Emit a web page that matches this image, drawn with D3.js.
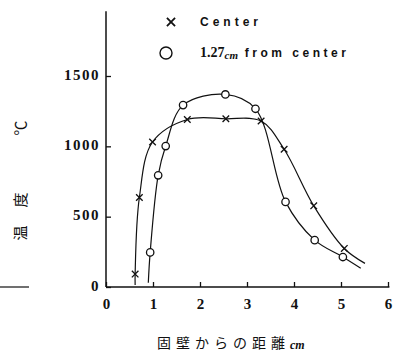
<!DOCTYPE html>
<html>
<head>
<meta charset="utf-8">
<script src="https://cdn.jsdelivr.net/npm/d3@7"></script>
<style>
  body { margin: 0; background: #fff; }
  svg { display: block; }
  .num { font-family: "Liberation Serif", "DejaVu Serif", serif; font-weight: bold; }
</style>
</head>
<body>
<svg id="chart" width="402" height="351"></svg>
<script>
"use strict";

//Distance from the wall (cm) and temperature (C) for the two series
var centerX = [0.62, 0.71, 0.99, 1.73, 2.55, 3.30, 3.79, 4.42, 5.07];
var centerY = [92, 636, 1031, 1191, 1196, 1180, 979, 577, 274];
var offX = [0.94, 1.11, 1.27, 1.64, 2.54, 3.18, 3.82, 4.44, 5.04];
var offY = [246, 794, 1002, 1293, 1369, 1267, 605, 333, 213];
//Where the hand drawn curves start and stop
var centerEnds = [[0.62, 14], [5.51, 168]];
var offEnds = [[0.90, 30], [5.42, 133]];

var xTicks = [0, 1, 2, 3, 4, 5, 6];
var yTicks = [0, 500, 1000, 1500];

var svg = d3.select("#chart");

var x = d3.scaleLinear().domain([0, 6]).range([106, 388]);
var y = d3.scaleLinear().domain([0, 1500]).range([287, 76]);

var ink = "#111";

//Axes lines
svg.append("line")
    .attr("x1", x(0)).attr("x2", x(0))
    .attr("y1", y(0)).attr("y2", y(1960))
    .attr("stroke", ink).attr("stroke-width", 1.5);
svg.append("line")
    .attr("x1", x(0)).attr("x2", x(6.03))
    .attr("y1", y(0)).attr("y2", y(0))
    .attr("stroke", ink).attr("stroke-width", 1.5);

//Small stroke on the far left
svg.append("line")
    .attr("x1", 0).attr("x2", 29)
    .attr("y1", y(0)).attr("y2", y(0))
    .attr("stroke", ink).attr("stroke-width", 1.2);

var gx = svg.append("g")
    .attr("transform", "translate(0," + y(0) + ")")
    .call(d3.axisBottom(x).tickValues(xTicks).tickFormat(d3.format("d"))
      .tickSizeInner(-5).tickSizeOuter(0).tickPadding(11));
gx.select(".domain").remove();

var gy = svg.append("g")
    .attr("transform", "translate(" + x(0) + ",0)")
    .call(d3.axisLeft(y).tickValues(yTicks).tickFormat(d3.format("d"))
      .tickSizeInner(-5).tickSizeOuter(0).tickPadding(6));
gy.select(".domain").remove();

//Let the css class choose the font of the tick labels
gx.attr("font-family", null).attr("font-size", 15);
gy.attr("font-family", null).attr("font-size", 15);
svg.selectAll(".tick line").attr("stroke", ink).attr("stroke-width", 1.3);
svg.selectAll(".tick text")
    .attr("fill", ink)
    .attr("class", "num");
gy.selectAll(".tick text").attr("letter-spacing", "1.5px").attr("dy", "0.2em");

//Curves
var line = d3.line()
    .x(function(d) { return x(d[0]); })
    .y(function(d) { return y(d[1]); })
    .curve(d3.curveCatmullRom.alpha(0.5));

function series(xs, ys, ends) {
  var pts = xs.map(function(v, i) { return [v, ys[i]]; });
  return [ends[0]].concat(pts).concat([ends[1]]);
}

svg.append("path")
    .attr("d", line(series(centerX, centerY, centerEnds)))
    .attr("fill", "none").attr("stroke", ink).attr("stroke-width", 1.2);
svg.append("path")
    .attr("d", line(series(offX, offY, offEnds)))
    .attr("fill", "none").attr("stroke", ink).attr("stroke-width", 1.2);

//Markers
var cross = d3.symbol().type(d3.symbolX).size(30);
svg.append("g").selectAll("path")
    .data(centerX)
    .enter().append("path")
      .attr("d", cross)
      .attr("transform", function(d, i) { return "translate(" + x(d) + "," + y(centerY[i]) + ")"; })
      .attr("fill", "none").attr("stroke", ink).attr("stroke-width", 1.3);

svg.append("g").selectAll("circle")
    .data(offX)
    .enter().append("circle")
      .attr("cx", function(d) { return x(d); })
      .attr("cy", function(d, i) { return y(offY[i]); })
      .attr("r", 3.7)
      .attr("fill", "#fff").attr("stroke", ink).attr("stroke-width", 1.3);

//Legend
svg.append("path")
    .attr("d", d3.symbol().type(d3.symbolX).size(45))
    .attr("transform", "translate(171,22)")
    .attr("fill", "none").attr("stroke", ink).attr("stroke-width", 1.8);
svg.append("text")
    .attr("x", 200).attr("y", 26)
    .text("Center")
    .attr("font-family", "Liberation Sans").attr("font-weight", "bold")
    .attr("font-size", "12px").attr("letter-spacing", "4px")
    .attr("fill", ink);

svg.append("circle")
    .attr("cx", 166).attr("cy", 53).attr("r", 6)
    .attr("fill", "none").attr("stroke", ink).attr("stroke-width", 1.4);
var leg2 = svg.append("text")
    .attr("x", 200).attr("y", 57)
    .attr("font-family", "Liberation Sans").attr("font-weight", "bold")
    .attr("font-size", "12px").attr("fill", ink);
leg2.append("tspan").text("1.27").attr("class", "num").attr("font-size", "14px");
leg2.append("tspan").text("cm").attr("class", "num").attr("font-style", "italic")
    .attr("font-size", "11px").attr("dy", "2");
leg2.append("tspan").text(" from center").attr("letter-spacing", "3.5px").attr("dy", "-2");

//Axis titles
var xt = svg.append("text")
    .attr("x", 157).attr("y", 348)
    .attr("font-family", "Noto Sans CJK JP")
    .attr("font-size", "14px").attr("fill", ink);
xt.append("tspan").text("固壁からの距離").attr("letter-spacing", "5px");
xt.append("tspan").text("cm").attr("class", "num").attr("font-style", "italic")
    .attr("font-size", "12px").attr("dy", "1");

var ylab = [["温", 233], ["度", 200], ["℃", 128]];
svg.append("g").selectAll("text")
    .data(ylab)
    .enter().append("text")
      .attr("transform", function(d) { return "translate(21," + d[1] + ") rotate(-90)"; })
      .attr("text-anchor", "middle")
      .attr("dy", "0.35em")
      .attr("font-family", "Noto Sans CJK JP")
      .attr("font-size", "15px").attr("fill", ink)
      .text(function(d) { return d[0]; });
</script>
</body>
</html>
